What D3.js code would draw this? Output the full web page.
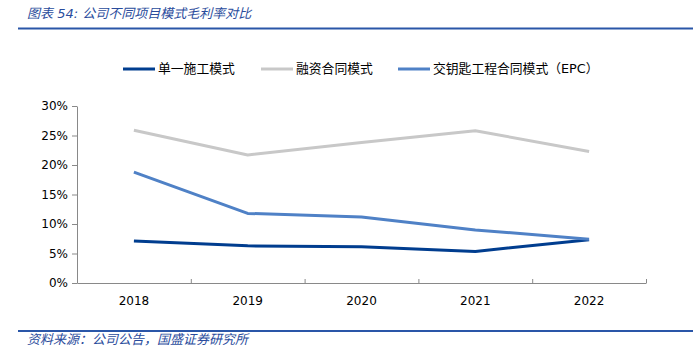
<!DOCTYPE html>
<html>
<head>
<meta charset="utf-8">
<script src="https://cdn.jsdelivr.net/npm/d3@7"></script>
<style>
  body { margin: 0; background: #fff; }
  text { font-family: "DejaVu Sans", "Noto Sans CJK SC", sans-serif; }
</style>
</head>
<body>
<svg width="693" height="362"></svg>
<script>
// data
const years = ["2018", "2019", "2020", "2021", "2022"];
const single = [7.1, 6.3, 6.15, 5.35, 7.35];
const financing = [25.9, 21.7, 23.8, 25.8, 22.3];
const epc = [18.8, 11.8, 11.2, 9.0, 7.4];
const yTicks = [0, 5, 10, 15, 20, 25, 30];
const seriesNames = ["单一施工模式", "融资合同模式", "交钥匙工程合同模式（EPC）"];

const series = [
  { name: seriesNames[0], values: single, color: "#003d8f" },
  { name: seriesNames[1], values: financing, color: "#c8c8c8" },
  { name: seriesNames[2], values: epc, color: "#4f81c6" }
];

const svg = d3.select("svg");
const cjk = "'Noto Sans CJK SC', sans-serif";

// title and rules
svg.append("text")
  .attr("x", 27).attr("y", 18)
  .attr("font-family", cjk)
  .attr("font-style", "italic")
  .attr("font-size", 13)
  .attr("fill", "#2a4c9c")
  .text("图表 54:  公司不同项目模式毛利率对比");

svg.append("line")
  .attr("x1", 18).attr("x2", 693).attr("y1", 28.5).attr("y2", 28.5)
  .attr("stroke", "#2a56a8").attr("stroke-width", 2);

svg.append("line")
  .attr("x1", 18).attr("x2", 693).attr("y1", 331).attr("y2", 331)
  .attr("stroke", "#2a56a8").attr("stroke-width", 2);

svg.append("text")
  .attr("x", 27).attr("y", 344)
  .attr("font-family", cjk)
  .attr("font-style", "italic")
  .attr("font-size", 13)
  .attr("fill", "#2a4c9c")
  .text("资料来源：公司公告，国盛证券研究所");

// scales
const x = d3.scaleBand().domain(years).range([77, 646]);
const y = d3.scaleLinear().domain([0, 30]).range([283, 106]);

// y axis
const yAxis = svg.append("g")
  .attr("transform", "translate(77,0)")
  .call(d3.axisLeft(y).tickValues(yTicks).tickSize(5).tickSizeOuter(0).tickFormat(d => d + "%"));
yAxis.select(".domain").attr("stroke", "#898989");
yAxis.selectAll(".tick line").attr("stroke", "#898989");
yAxis.selectAll(".tick text")
  .attr("font-size", 12).attr("fill", "#000").attr("x", -9)
  .attr("font-family", "'DejaVu Sans', sans-serif");

// x axis with boundary ticks
const xAxis = svg.append("g")
  .attr("transform", "translate(0,283)")
  .call(d3.axisBottom(x).tickSize(0).tickSizeOuter(0));
xAxis.select(".domain").attr("stroke", "#898989");
xAxis.selectAll(".tick text")
  .attr("font-size", 12).attr("fill", "#000").attr("dy", "1.55em")
  .attr("font-family", "'DejaVu Sans', sans-serif");

const bounds = years.map(d => x(d)).concat([x.range()[1]]);
xAxis.selectAll(".bound")
  .data(bounds)
  .join("line")
  .attr("class", "bound")
  .attr("x1", d => d + 0.5).attr("x2", d => d + 0.5)
  .attr("y1", 0).attr("y2", -4)
  .attr("stroke", "#898989");

// lines
const line = d3.line()
  .x((d, i) => x(years[i]) + x.bandwidth() / 2)
  .y(d => y(d));

svg.selectAll(".series")
  .data(series)
  .join("path")
  .attr("class", "series")
  .attr("d", d => line(d.values))
  .attr("fill", "none")
  .attr("stroke", d => d.color)
  .attr("stroke-width", 3)
  .attr("stroke-linejoin", "round");

// legend
const legendX = [123, 261, 398];
const legend = svg.selectAll(".legend")
  .data(series)
  .join("g")
  .attr("class", "legend")
  .attr("transform", (d, i) => "translate(" + legendX[i] + ",69)");

legend.append("line")
  .attr("x1", 0).attr("x2", 32)
  .attr("stroke", d => d.color)
  .attr("stroke-width", 3);

legend.append("text")
  .attr("x", 35).attr("y", 0)
  .attr("dominant-baseline", "middle")
  .attr("font-family", cjk)
  .attr("font-size", 12.8)
  .attr("fill", "#000")
  .text(d => d.name);
</script>
</body>
</html>
